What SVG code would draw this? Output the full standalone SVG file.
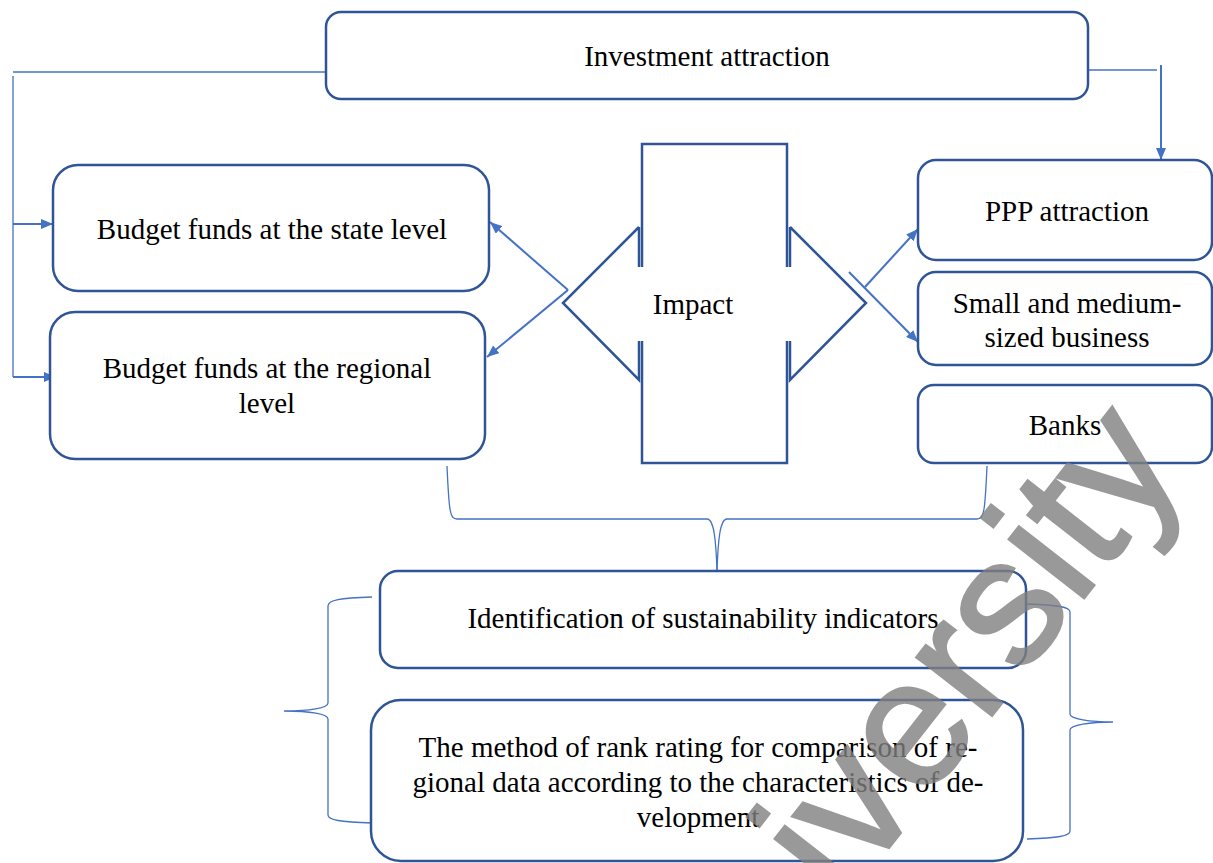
<svg xmlns="http://www.w3.org/2000/svg" width="1213" height="863" viewBox="0 0 1213 863">
<defs>
<style>
.box{fill:#fff;stroke:#2F5597;stroke-width:2.5}
.shape{fill:none;stroke:#2F5597;stroke-width:2.5}
.lbl{font-family:'Liberation Serif','Times New Roman',serif;font-size:29px;fill:#000;text-anchor:middle}
.conn{stroke:#4472C4;stroke-width:2;fill:none}
.thin{stroke:#4472C4;stroke-width:1.3;fill:none}
.wm{font-family:'Liberation Sans',Arial,sans-serif;font-size:180px;fill:#808080;stroke:#808080;stroke-width:3;opacity:0.8}
</style>
<marker id="ah" viewBox="0 0 12 10" refX="12" refY="5" markerWidth="12" markerHeight="10" markerUnits="userSpaceOnUse" orient="auto">
<path d="M0,0 L12,5 L0,10 z" fill="#4472C4"/>
</marker>
</defs>
<rect width="1213" height="863" fill="#fff"/>

<g id="connectors">
<path class="thin" d="M13,72 H326"/>
<path class="thin" d="M13,76 V377"/>
<path class="conn" d="M13,224 H53" marker-end="url(#ah)"/>
<path class="conn" d="M13,377 H56" marker-end="url(#ah)"/>
<path class="thin" d="M1083,70 H1157"/>
<path class="conn" d="M1161,65 V160" marker-end="url(#ah)"/>
<path class="conn" d="M568,290 L490,222" marker-end="url(#ah)"/>
<path class="conn" d="M568,290 L487,357" marker-end="url(#ah)"/>
<path class="conn" d="M849,272 L918,342" marker-end="url(#ah)"/>
<path class="conn" d="M865,287 L918,229" marker-end="url(#ah)"/>
<path class="thin" d="M447,466 C449,512 450,519 457,519 H707 C714,519 716,540 717,572"/>
<path class="thin" d="M987,466 C985,512 984,519 977,519 H727 C720,519 718,540 717,572"/>
<path class="thin" d="M372,597 C340,598 328,600 328,606 V703 C328,708 310,711 284,711 C310,711 328,714 328,719 V815 C328,820 340,822 372,823"/>
<path class="thin" d="M1027,604 C1058,605 1070,607 1070,612 V714 C1070,719 1090,722 1113,722 C1090,722 1070,725 1070,730 V831 C1070,836 1058,838 1027,839"/>
</g>

<g id="investment">
<rect class="box" x="326" y="12" width="762" height="87" rx="15"/>
<text class="lbl" x="707" y="66">Investment attraction</text>
</g>

<g id="budget-state">
<rect class="box" x="53" y="165" width="436" height="126" rx="25"/>
<text class="lbl" x="272" y="239">Budget funds at the state level</text>
</g>

<g id="budget-regional">
<rect class="box" x="50" y="312" width="435" height="147" rx="25"/>
<text class="lbl" x="267" y="378">Budget funds at the regional</text>
<text class="lbl" x="267" y="413">level</text>
</g>

<g id="impact">
<path class="shape" d="M642,267 V144 H787 V267 M787,341 V463 H642 V341"/>
<path class="shape" d="M639,227 V267 M639,227 L563,303 L639,380 V341"/>
<path class="shape" d="M790,227 V267 M790,227 L866,303 L790,380 V341"/>
<text class="lbl" x="693" y="314">Impact</text>
</g>

<g id="ppp">
<rect class="box" x="918" y="160" width="294" height="100" rx="18"/>
<text class="lbl" x="1067" y="221">PPP attraction</text>
</g>

<g id="sme">
<rect class="box" x="918" y="272" width="294" height="93" rx="18"/>
<text class="lbl" x="1067" y="313">Small and medium-</text>
<text class="lbl" x="1067" y="347">sized business</text>
</g>

<g id="banks">
<rect class="box" x="918" y="385" width="294" height="78" rx="16"/>
<text class="lbl" x="1065" y="435">Banks</text>
</g>

<g id="identification">
<rect class="box" x="380" y="571" width="646" height="97" rx="18"/>
<text class="lbl" x="703" y="628">Identification of sustainability indicators</text>
</g>

<g id="method">
<rect class="box" x="371" y="700" width="652" height="161" rx="30"/>
<text class="lbl" x="698" y="757">The method of rank rating for comparison of re-</text>
<text class="lbl" x="698" y="792">gional data according to the characteristics of de-</text>
<text class="lbl" x="698" y="827">velopment</text>
</g>

<text class="wm" transform="translate(701,1088) rotate(-52)">University</text>
</svg>
